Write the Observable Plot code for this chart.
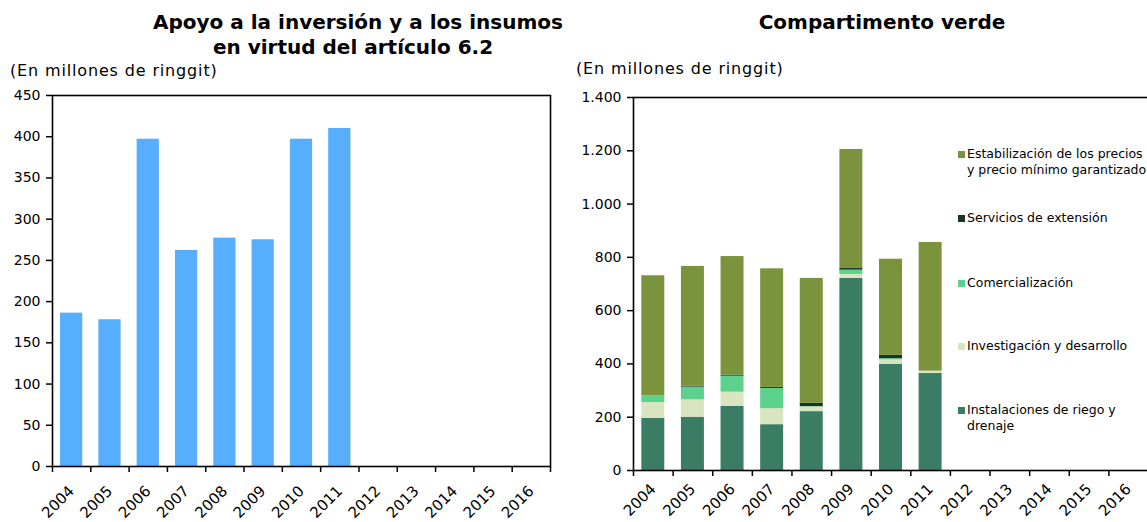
<!DOCTYPE html>
<html>
<head>
<meta charset="utf-8">
<script src="https://cdn.jsdelivr.net/npm/d3@7"></script>
<script src="https://cdn.jsdelivr.net/npm/@observablehq/plot@0.6"></script>
<style>
  html, body { margin: 0; padding: 0; background: #fff; overflow: hidden; }
  body { font-family: "DejaVu Sans", Verdana, sans-serif; color: #000; }
  #root { position: relative; width: 1147px; height: 522px; overflow: hidden; }
  .abs { position: absolute; }
  .title { font-weight: bold; font-size: 20px; text-align: center; line-height: 25px; white-space: nowrap; }
  .sub { font-size: 16px; letter-spacing: 0.85px; white-space: nowrap; }
  .leg { font-size: 12.5px; line-height: 16px; white-space: nowrap; }
  .sw { position: absolute; width: 7px; height: 7px; }
  svg { overflow: visible; }
</style>
</head>
<body>
<div id="root"></div>
<script>
// ---------- data ----------
const years = [2004, 2005, 2006, 2007, 2008, 2009, 2010, 2011, 2012, 2013, 2014, 2015, 2016];
const dataYears = [2004, 2005, 2006, 2007, 2008, 2009, 2010, 2011];
const apoyo = [186, 178, 397, 262, 277, 275, 397, 410];

const seriesNames = [
  "Instalaciones de riego y drenaje",
  "Investigación y desarrollo",
  "Comercialización",
  "Servicios de extensión",
  "Estabilización de los precios y precio mínimo garantizado"
];
const riego = [196, 200, 241, 172, 221, 721, 399, 364];
const investigacion = [59, 65, 53, 60, 17, 15, 16, 9];
const comercializacion = [25, 48, 60, 76, 2, 16, 5, 0];
const servicios = [0, 3, 4, 4, 12, 6, 12, 0];
const estabilizacion = [451, 450, 445, 445, 469, 447, 361, 483];
const seriesColors = ["#3a7c64", "#d9e4c0", "#5cd08d", "#1b3327", "#7a933c"];

const leftTicks = [0, 50, 100, 150, 200, 250, 300, 350, 400, 450];
const rightTicks = [0, 200, 400, 600, 800, 1000, 1200, 1400];

// ---------- helpers ----------
const half = 0.29; // half bar width in category units
const boundaries = years.map(y => y - 0.5).concat([years[years.length - 1] + 0.5]);
const fmtEs = d3.formatLocale({decimal: ",", thousands: ".", grouping: [3], currency: ["", ""]}).format(",");

const root = document.getElementById("root");
function place(el, left, top) {
  el.style.position = "absolute";
  el.style.left = left + "px";
  el.style.top = top + "px";
  root.appendChild(el);
  return el;
}
function div(cls, html, left, top, extra) {
  const d = document.createElement("div");
  d.className = "abs " + cls;
  d.innerHTML = html;
  if (extra) Object.assign(d.style, extra);
  return place(d, left, top);
}

const baseStyle = {fontFamily: "DejaVu Sans, Verdana, sans-serif", fontSize: "14px", color: "#000", background: "transparent", overflow: "visible"};
const xLabelAxis = (pad) => Plot.axisX({ticks: years, tickSize: 0, tickPadding: pad, tickRotate: -45, label: null, tickFormat: d => String(d), fontSize: 15});

// ---------- left chart ----------
const leftData = dataYears.map((y, i) => ({year: y, value: apoyo[i]}));
const left = Plot.plot({
  width: 570, height: 522,
  marginLeft: 52, marginRight: 20, marginTop: 95, marginBottom: 56,
  style: baseStyle,
  x: {domain: [boundaries[0], boundaries[boundaries.length - 1]]},
  y: {domain: [0, 450]},
  marks: [
    Plot.rectY(leftData, {x1: d => d.year - half, x2: d => d.year + half, y: "value", fill: "#57aefe"}),
    Plot.axisY({ticks: leftTicks, tickSize: 6, tickPadding: 6, label: null, tickFormat: d => String(d), stroke: "#000", strokeWidth: 1.5}),
    xLabelAxis(22),
    Plot.axisX({ticks: boundaries, tickSize: 6, tickFormat: () => "", label: null, stroke: "#000", strokeWidth: 1.5}),
    Plot.frame({stroke: "#000", strokeWidth: 1.6})
  ]
});
place(left, 0, 0);

// ---------- right chart ----------
const cols = [riego, investigacion, comercializacion, servicios, estabilizacion];
const long = [];
dataYears.forEach((y, i) => {
  seriesNames.forEach((s, k) => long.push({year: y, series: s, value: cols[k][i]}));
});
const right = Plot.plot({
  width: 590, height: 522,
  marginLeft: 63, marginRight: 12, marginTop: 97, marginBottom: 52,
  style: baseStyle,
  x: {domain: [boundaries[0], boundaries[boundaries.length - 1]]},
  y: {domain: [0, 1400]},
  color: {domain: seriesNames, range: seriesColors},
  marks: [
    Plot.rectY(long, Plot.stackY({
      x1: d => d.year - half, x2: d => d.year + half,
      y: "value", fill: "series", order: seriesNames
    })),
    Plot.axisY({ticks: rightTicks, tickSize: 6, tickPadding: 6, label: null, tickFormat: fmtEs, stroke: "#000", strokeWidth: 1.5}),
    xLabelAxis(16),
    Plot.axisX({ticks: boundaries, tickSize: 6, tickFormat: () => "", label: null, stroke: "#000", strokeWidth: 1.5}),
    Plot.frame({stroke: "#000", strokeWidth: 1.6})
  ]
});
place(right, 570, 0);

// ---------- titles ----------
div("title", "Apoyo a la inversión y a los insumos<br>en virtud del artículo 6.2", 153, 10, {width: "400px"});
div("title", "Compartimento verde", 682, 10, {width: "400px"});
div("sub", "(En millones de ringgit)", 10, 61);
div("sub", "(En millones de ringgit)", 576, 59);

// ---------- legend ----------
const legendItems = [
  {k: 4, lines: ["Estabilización de los precios", "y precio mínimo garantizado"], y: 146},
  {k: 3, lines: ["Servicios de extensión"], y: 210},
  {k: 2, lines: ["Comercialización"], y: 275},
  {k: 1, lines: ["Investigación y desarrollo"], y: 338},
  {k: 0, lines: ["Instalaciones de riego y", "drenaje"], y: 402}
];
legendItems.forEach(it => {
  const sw = document.createElement("div");
  sw.className = "sw";
  sw.style.background = seriesColors[it.k];
  place(sw, 958, it.y + 4.5);
  div("leg", it.lines.join("<br>"), 967, it.y);
});
</script>
</body>
</html>
